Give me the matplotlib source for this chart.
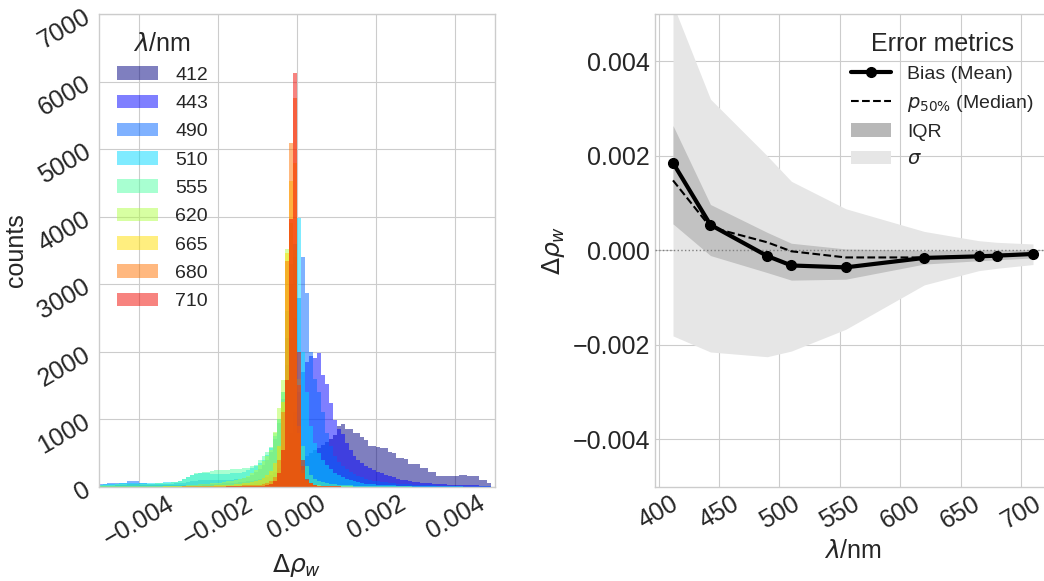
"""
Δρw のヒストグラム (波長別) と波長ごとの誤差指標
"""

import numpy as np
import matplotlib
matplotlib.use('Agg')
import matplotlib.pyplot as plt
from matplotlib.patches import Patch
from matplotlib.lines import Line2D

plt.style.use('seaborn-v0_8-whitegrid')
plt.rcParams['font.family'] = ['Liberation Sans', 'DejaVu Sans']

# --- データ ---
wavelengths = [412, 443, 490, 510, 555, 620, 665, 680, 710]

# ヒストグラム: ビン幅 0.0001, -0.005 .. 0.005 (100 ビン)
bin_edges = np.linspace(-0.005, 0.005, 101)

counts_412 = [5, 5, 6, 6, 7, 7, 8, 8, 9, 9,
              10, 10, 10, 11, 11, 12, 12, 13, 13, 14,
              14, 15, 15, 16, 16, 17, 18, 19, 20, 21,
              22, 24, 26, 28, 30, 33, 36, 40, 45, 50,
              56, 62, 70, 80, 95, 110, 130, 160, 200, 250,
              320, 390, 450, 500, 540, 580, 620, 660, 700, 760,
              900, 925, 860, 850, 800, 790, 740, 690, 610, 600,
              590, 580, 580, 510, 500, 430, 420, 410, 340, 335,
              330, 275, 270, 225, 220, 160, 158, 155, 160, 160,
              158, 175, 170, 160, 160, 155, 100, 95, 55, 0]
counts_443 = [10, 12, 14, 16, 18, 20, 25, 40, 45, 35,
              25, 22, 20, 20, 20, 20, 22, 22, 24, 25,
              26, 28, 30, 30, 32, 34, 36, 38, 40, 42,
              45, 48, 50, 55, 60, 65, 70, 80, 90, 100,
              115, 130, 150, 180, 220, 280, 380, 550, 800, 1100,
              1400, 1700, 1850, 1930, 1900, 1980, 1650, 1520, 1240, 990,
              850, 780, 650, 540, 450, 400, 350, 310, 280, 250,
              225, 200, 180, 160, 140, 120, 105, 95, 85, 75,
              68, 62, 56, 50, 46, 42, 38, 35, 32, 30,
              28, 26, 24, 22, 20, 18, 16, 14, 12, 0]
counts_490 = [40, 45, 50, 50, 55, 55, 60, 80, 90, 85,
              60, 50, 45, 45, 40, 40, 40, 45, 45, 50,
              55, 60, 70, 80, 90, 95, 100, 100, 100, 100,
              100, 100, 100, 105, 110, 120, 130, 150, 180, 220,
              260, 320, 400, 520, 700, 950, 1300, 1800, 2200, 2500,
              2800, 3407, 2870, 2000, 1600, 1400, 1100, 800, 600, 450,
              360, 300, 260, 220, 190, 160, 140, 120, 105, 90,
              80, 72, 65, 58, 52, 46, 42, 38, 34, 30,
              27, 25, 22, 20, 18, 16, 15, 14, 12, 11,
              10, 9, 8, 8, 7, 6, 5, 5, 4, 0]
counts_510 = [30, 35, 40, 45, 45, 50, 55, 60, 60, 55,
              55, 55, 55, 60, 60, 60, 65, 65, 70, 75,
              90, 110, 140, 170, 190, 200, 200, 200, 195, 190,
              190, 190, 195, 200, 205, 210, 220, 240, 270, 300,
              350, 400, 470, 580, 750, 1000, 1400, 2200, 3000, 3600,
              3980, 2000, 1400, 900, 650, 500, 400, 320, 260, 210,
              170, 140, 115, 95, 80, 65, 55, 45, 40, 35,
              30, 27, 24, 21, 19, 17, 15, 13, 12, 11,
              10, 9, 8, 7, 7, 6, 6, 5, 5, 4,
              4, 4, 3, 3, 3, 2, 2, 2, 2, 0]
counts_555 = [20, 25, 30, 30, 35, 35, 40, 40, 40, 40,
              40, 40, 45, 45, 50, 50, 55, 60, 65, 75,
              90, 110, 140, 170, 200, 210, 215, 220, 230, 240,
              245, 250, 250, 255, 260, 265, 270, 280, 300, 320,
              400, 460, 510, 590, 800, 1000, 1400, 2600, 3300, 3400,
              1600, 600, 300, 180, 120, 90, 70, 55, 45, 38,
              32, 27, 23, 20, 17, 15, 13, 11, 10, 9,
              8, 7, 6, 6, 5, 5, 4, 4, 4, 3,
              3, 3, 3, 2, 2, 2, 2, 2, 2, 1,
              1, 1, 1, 1, 1, 1, 1, 1, 1, 0]
counts_620 = [5, 5, 5, 5, 5, 5, 5, 5, 5, 5,
              5, 5, 5, 5, 5, 6, 6, 7, 8, 9,
              10, 15, 20, 25, 30, 35, 40, 45, 50, 55,
              60, 70, 80, 90, 100, 110, 130, 160, 200, 250,
              320, 380, 450, 550, 815, 1160, 1580, 3520, 3900, 3500,
              800, 250, 100, 50, 30, 20, 15, 10, 8, 6,
              5, 5, 4, 4, 3, 3, 3, 2, 2, 2,
              2, 2, 1, 1, 1, 1, 1, 1, 1, 1,
              0, 0, 0, 0, 0, 0, 0, 0, 0, 0,
              0, 0, 0, 0, 0, 0, 0, 0, 0, 0]
counts_665 = [2, 2, 2, 2, 2, 2, 2, 2, 2, 2,
              3, 3, 3, 3, 3, 3, 4, 4, 4, 5,
              5, 6, 7, 8, 9, 10, 12, 14, 16, 18,
              20, 23, 26, 30, 35, 40, 50, 60, 70, 85,
              100, 130, 170, 230, 350, 600, 1250, 3460, 4530, 4800,
              900, 200, 80, 40, 20, 10, 8, 6, 5, 4,
              3, 3, 2, 2, 2, 1, 1, 1, 1, 1,
              0, 0, 0, 0, 0, 0, 0, 0, 0, 0,
              0, 0, 0, 0, 0, 0, 0, 0, 0, 0,
              0, 0, 0, 0, 0, 0, 0, 0, 0, 0]
counts_680 = [1, 1, 1, 1, 1, 1, 1, 1, 1, 1,
              1, 1, 1, 2, 2, 2, 2, 2, 3, 3,
              3, 4, 4, 5, 5, 6, 7, 8, 9, 10,
              11, 12, 13, 14, 15, 17, 19, 21, 24, 27,
              30, 40, 60, 90, 150, 400, 1100, 3340, 5096, 5763,
              1500, 300, 100, 50, 25, 15, 10, 8, 6, 5,
              4, 3, 3, 2, 2, 2, 1, 1, 1, 1,
              0, 0, 0, 0, 0, 0, 0, 0, 0, 0,
              0, 0, 0, 0, 0, 0, 0, 0, 0, 0,
              0, 0, 0, 0, 0, 0, 0, 0, 0, 0]
counts_710 = [0, 0, 0, 0, 0, 0, 0, 0, 0, 0,
              0, 0, 0, 0, 0, 0, 0, 1, 1, 1,
              1, 1, 1, 1, 2, 2, 2, 2, 2, 3,
              3, 3, 4, 4, 5, 5, 6, 6, 7, 8,
              10, 15, 25, 40, 80, 200, 550, 1580, 3963, 6130,
              2000, 400, 120, 50, 25, 15, 10, 8, 6, 5,
              4, 3, 3, 2, 2, 2, 1, 1, 1, 1,
              0, 0, 0, 0, 0, 0, 0, 0, 0, 0,
              0, 0, 0, 0, 0, 0, 0, 0, 0, 0,
              0, 0, 0, 0, 0, 0, 0, 0, 0, 0]

all_counts = [counts_412, counts_443, counts_490, counts_510, counts_555,
              counts_620, counts_665, counts_680, counts_710]

# 誤差指標 (波長ごと)
bias_mean = [0.00185, 0.00054, -0.00012, -0.00032, -0.00036, -0.00016, -0.000127, -0.000112, -0.000077]
median_p50 = [0.00148, 0.00049, 0.00017, -0.00002, -0.00015, -0.00015, -0.00012, -0.00010, -0.00007]
iqr_low = [0.00056, -0.00011, -0.00047, -0.00063, -0.00061, -0.00029, -0.00022, -0.00020, -0.00016]
iqr_high = [0.00264, 0.00097, 0.00038, 0.00015, 0.00003, 0.00000, 0.00001, 0.00001, 0.00001]
sigma_low = [-0.00181, -0.00215, -0.00225, -0.00213, -0.00167, -0.00073, -0.00043, -0.00038, -0.00030]
sigma_high = [0.0052, 0.0032, 0.0020, 0.00146, 0.00088, 0.00040, 0.000205, 0.00017, 0.000135]

# --- 描画 ---
fig = plt.figure(figsize=(10.44, 5.81), dpi=100)
ax1 = fig.add_axes([0.0951, 0.1623, 0.3790, 0.8136])
ax2 = fig.add_axes([0.6274, 0.1623, 0.3793, 0.8136])

# 左: ヒストグラム
colors = plt.cm.jet(np.linspace(0, 0.9, len(wavelengths)))
centers = 0.5 * (bin_edges[:-1] + bin_edges[1:])
for wl, cnt, c in zip(wavelengths, all_counts, colors):
    ax1.hist(centers, bins=bin_edges, weights=cnt, color=c, alpha=0.5, label=str(wl))

ax1.set_xlim(-0.005, 0.005)
ax1.set_ylim(0, 7000)
ax1.set_xticks([-0.004, -0.002, 0.0, 0.002, 0.004])
ax1.set_xticklabels(['\u22120.004', '\u22120.002', '0.000', '0.002', '0.004'])
ax1.tick_params(axis='x', labelsize=18, labelrotation=30)
ax1.tick_params(axis='y', labelsize=18, labelrotation=30)
ax1.set_xlabel(r'$\Delta\rho_w$', fontsize=18, labelpad=1)
ax1.set_ylabel('counts', fontsize=18)
leg1 = ax1.legend(title=r'$\lambda$/nm', loc='upper left', fontsize=14,
                  title_fontsize=18, labelspacing=0.55, handlelength=2.1,
                  handletextpad=0.9, borderaxespad=0.5)

# 右: 誤差指標
ax2.fill_between(wavelengths, sigma_low, sigma_high, color='0.9', lw=0, zorder=1)
ax2.fill_between(wavelengths, iqr_low, iqr_high, color='0.76', lw=0, zorder=2)
ax2.axhline(0, color='gray', ls=':', lw=1, zorder=3)
ax2.plot(wavelengths, median_p50, 'k--', lw=1.5, zorder=4)
ax2.plot(wavelengths, bias_mean, 'k-', marker='o', ms=7, lw=3, zorder=5)
ax2.set_ylim(-0.005, 0.005)
ax2.set_yticks([-0.004, -0.002, 0.0, 0.002, 0.004])
ax2.set_yticklabels(['\u22120.004', '\u22120.002', '0.000', '0.002', '0.004'])
ax2.set_xticks([400, 450, 500, 550, 600, 650, 700])
ax2.tick_params(axis='x', labelsize=18, labelrotation=30)
ax2.tick_params(axis='y', labelsize=18)
ax2.set_xlabel(r'$\lambda$/nm', fontsize=18)
ax2.set_ylabel(r'$\Delta\rho_w$', fontsize=18)

handles = [
    Line2D([], [], color='k', lw=3, marker='o', ms=7),
    Line2D([], [], color='k', ls='--', lw=1.5),
    Patch(facecolor='0.72'),
    Patch(facecolor='0.9'),
]
labels = ['Bias (Mean)', r'$p_{50\%}$ (Median)', 'IQR', r'$\sigma$']
ax2.legend(handles, labels, title='Error metrics', loc='upper right',
           bbox_to_anchor=(1.0, 1.0), fontsize=14, title_fontsize=18,
           labelspacing=0.5, handlelength=2.1, handletextpad=0.8)

plt.savefig('out.png', dpi=100)
plt.close()
